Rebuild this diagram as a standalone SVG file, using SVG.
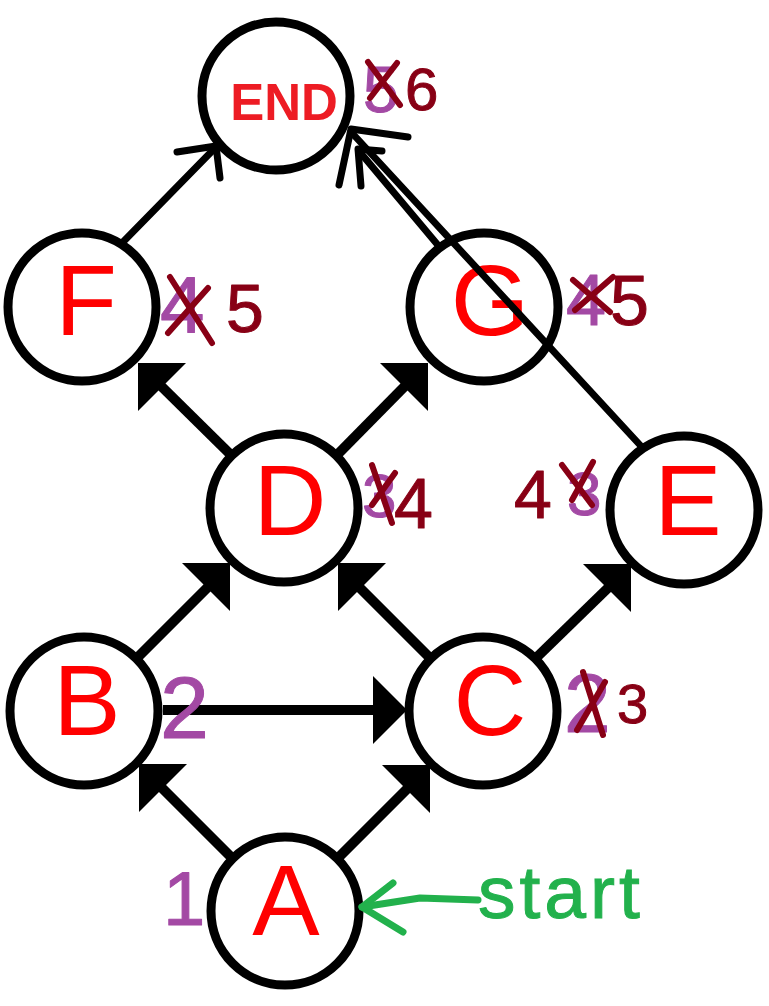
<svg xmlns="http://www.w3.org/2000/svg" width="769" height="1006" viewBox="0 0 769 1006">
<defs>
<style>
.node{fill:#fff;stroke:#000;stroke-width:9}
.lbl{font-family:"Liberation Sans",Arial,sans-serif;font-size:101px;fill:#ff0000;text-anchor:middle}
.end{font-family:"Liberation Sans",Arial,sans-serif;font-size:51px;font-weight:bold;fill:#ed1c24;text-anchor:middle}
.edge{stroke:#000;stroke-width:10;fill:none}
.thin{stroke:#000;stroke-width:7;fill:none;stroke-linecap:round;stroke-linejoin:round}
.head{fill:#000}
.pur{font-family:"Liberation Sans",Arial,sans-serif;fill:#a349a4;stroke:#a349a4;stroke-width:1;stroke-linejoin:round}
.red{font-family:"Liberation Sans",Arial,sans-serif;fill:#880015;stroke:#880015;stroke-width:1;stroke-linejoin:round}
.x{stroke:#880015;stroke-width:6;stroke-linecap:round;fill:none}
.grn{stroke:#22b14c;stroke-width:7;stroke-linecap:round;stroke-linejoin:round;fill:none}
</style>
</defs>
<rect width="769" height="1006" fill="#fff"/>
<g id="node-end"><circle class="node" cx="276" cy="96" r="74"/><text class="end" x="284" y="120">END</text></g>
<g id="node-f"><circle class="node" cx="82" cy="307" r="74"/><text class="lbl" x="86" y="335">F</text></g>
<g id="node-g"><circle class="node" cx="484" cy="307" r="74"/><text class="lbl" x="490" y="335">G</text></g>
<g id="node-d"><circle class="node" cx="284" cy="508" r="74"/><text class="lbl" x="290" y="535">D</text></g>
<g id="node-e"><circle class="node" cx="684" cy="510" r="74"/><text class="lbl" x="688" y="535">E</text></g>
<g id="node-b"><circle class="node" cx="84" cy="711" r="74"/><text class="lbl" x="87" y="735">B</text></g>
<g id="node-c"><circle class="node" cx="483" cy="711" r="74"/><text class="lbl" x="490" y="735">C</text></g>
<g id="node-a"><circle class="node" cx="285" cy="911" r="74"/><text class="lbl" x="286" y="935">A</text></g>
<g id="connectors">
<line class="edge" x1="232" y1="858" x2="160" y2="786"/><polygon class="head" points="139,764 187,764 139,812"/>
<line class="edge" x1="338" y1="858" x2="409" y2="787"/><polygon class="head" points="430,765 382,765 430,813"/>
<line class="edge" x1="137" y1="658" x2="209" y2="586"/><polygon class="head" points="230,563 182,563 230,611"/>
<line class="edge" x1="430" y1="658" x2="359" y2="587"/><polygon class="head" points="338,563 386,563 338,611"/>
<line class="edge" x1="536" y1="658" x2="610" y2="586"/><polygon class="head" points="631,564 583,564 631,612"/>
<line class="edge" x1="231" y1="455" x2="160" y2="385"/><polygon class="head" points="138,363 186,363 138,411"/>
<line class="edge" x1="337" y1="455" x2="406" y2="385"/><polygon class="head" points="428,363 380,363 428,411"/>
<line class="edge" x1="163" y1="710" x2="376" y2="710"/><polygon class="head" points="407,710 373,676 373,744"/>
<line class="thin" x1="122" y1="243" x2="216" y2="147"/>
<polyline class="thin" points="177,152 216,146 220,178"/>
<line class="thin" x1="640" y1="445" x2="352" y2="133"/>
<line class="thin" x1="437" y1="244" x2="359" y2="151"/>
<polyline class="thin" points="408,137 351,129 339,185"/>
<polyline class="thin" points="382,151 358,149 361,186"/>
</g>
<g id="annotations">
<text class="pur" x="363" y="112" font-size="64">5</text>
<line class="x" x1="368" y1="62" x2="400" y2="105"/><line class="x" x1="397" y1="63" x2="370" y2="98"/>
<text class="red" x="405" y="110" font-size="60">6</text>
<text class="pur" x="160" y="332" font-size="80">4</text>
<line class="x" x1="170" y1="277" x2="212" y2="343"/><line class="x" x1="168" y1="333" x2="208" y2="288"/>
<text class="red" x="226" y="332" font-size="68">5</text>
<text class="pur" x="566" y="325" font-size="72">4</text>
<line class="x" x1="573" y1="280" x2="610" y2="312"/><line class="x" x1="575" y1="310" x2="613" y2="277"/>
<text class="red" x="610" y="325" font-size="70">5</text>
<text class="pur" x="362" y="517" font-size="62">3</text>
<line class="x" x1="372" y1="465" x2="392" y2="523"/><line class="x" x1="372" y1="505" x2="395" y2="473"/>
<text class="red" x="394" y="528" font-size="70">4</text>
<text class="red" x="514" y="518" font-size="68">4</text>
<text class="pur" x="567" y="515" font-size="62">3</text>
<line class="x" x1="562" y1="465" x2="592" y2="505"/><line class="x" x1="593" y1="462" x2="572" y2="500"/>
<text class="pur" x="160" y="738" font-size="88">2</text>
<text class="pur" x="564" y="732" font-size="84">2</text>
<line class="x" x1="583" y1="672" x2="603" y2="735"/><line class="x" x1="605" y1="682" x2="577" y2="730"/>
<text class="red" x="617" y="723" font-size="56">3</text>
<text class="pur" x="163" y="925" font-size="76">1</text>
<polyline class="grn" points="393,883 362,907 403,932"/>
<polyline class="grn" points="362,907 420,898 478,900"/>
<text x="478" y="918" font-family="Liberation Sans, Arial, sans-serif" font-size="75" fill="#22b14c" stroke="#22b14c" stroke-width="1" letter-spacing="4">start</text>
</g>
</svg>
